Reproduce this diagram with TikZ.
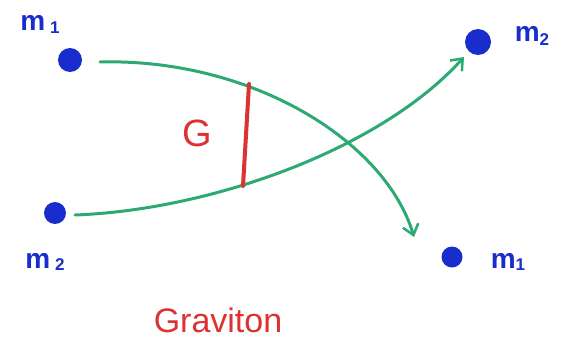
\documentclass[tikz,border=0pt]{standalone}
\usepackage{fontspec}
\setmainfont{Liberation Sans}
\usetikzlibrary{arrows.meta}
\definecolor{penblue}{RGB}{25,45,205}
\definecolor{pengreen}{RGB}{45,170,115}
\definecolor{penred}{RGB}{220,50,50}
\begin{document}
\begin{tikzpicture}[x=1pt,y=-1pt,
  mass/.style={circle,fill=penblue,inner sep=0pt,minimum size=#1},
  mlabel/.style={text=penblue,font=\bfseries\fontsize{28}{28}\selectfont,inner sep=0pt},
  world/.style={draw=pengreen,line width=3pt,line cap=round,-{Straight Barb[length=10pt,width=16pt,line width=2.5pt]}},
  redtext/.style={text=penred,inner sep=0pt}]
\useasboundingbox[fill=white] (0,0) rectangle (565,345);
\node[mass=24pt] (m1a) at (70,60) {};
\node[mass=22pt] (m2a) at (55,213) {};
\node[mass=26pt] (m2b) at (478,42) {};
\node[mass=21pt] (m1b) at (452,257) {};
\node[mlabel] (l1a) at (40,24) {m\,\raisebox{-3pt}{\fontsize{17}{17}\selectfont 1}};
\node[mlabel] (l2a) at (45,262) {m\,\raisebox{-2pt}{\fontsize{17}{17}\selectfont 2}};
\node[mlabel] (l2b) at (532,36) {m\raisebox{-4pt}{\fontsize{17}{17}\selectfont 2}};
\node[mlabel] (l1b) at (508,262) {m\raisebox{-2pt}{\fontsize{17}{17}\selectfont 1}};
\coordinate (s1) at (100,62);
\coordinate (e1) at (414,237);
\coordinate (s2) at (75,215);
\coordinate (e2) at (464,57);
\draw[world] (s1) .. controls (250,58) and (385,140) .. (e1);
\draw[world] (s2) .. controls (210,210) and (380,150) .. (e2);
\coordinate (r1) at (249,84);
\coordinate (r2) at (243,186);
\draw[penred,line width=4pt,line cap=round] (r1) -- (r2);
\node[redtext,font=\fontsize{38}{38}\selectfont] (G) at (197,133) {G};
\node[redtext,font=\fontsize{34}{34}\selectfont] (grav) at (218,320) {Graviton};
\end{tikzpicture}
\end{document}
